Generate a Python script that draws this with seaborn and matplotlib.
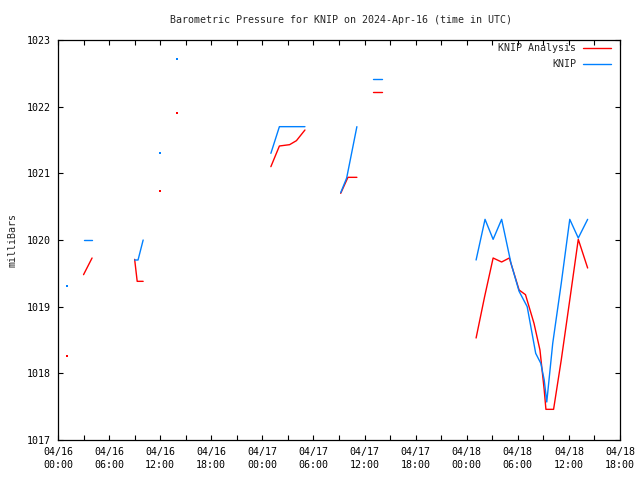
import matplotlib
matplotlib.use('Agg')
import numpy as np
import pandas as pd
import matplotlib.pyplot as plt
import seaborn as sns
from matplotlib.lines import Line2D

nan = np.nan

# hours since 2024-04-16 00:00 UTC, nan marks a gap in the record
analysis_hours = [1, nan, 3, 4, nan, 9, 9.3, 10, nan, 12, nan, 14, nan,
                  25, 26, 27.2, 28, 29, nan, 33.2, 34.05, 35.1, nan, 37, 38, nan,
                  49.1, 50.1, 51.1, 52.1, 53.0, 54.15, 54.9, 55.9, 56.6, 57.1,
                  57.3, 58.2, 59.1, 60.1, 61.1, 62.2]
analysis_mb = [1018.26, nan, 1019.48, 1019.73, nan, 1019.71, 1019.38, 1019.38, nan,
               1020.73, nan, 1021.90, nan,
               1021.10, 1021.41, 1021.43, 1021.49, 1021.65, nan,
               1020.70, 1020.94, 1020.94, nan, 1022.22, 1022.22, nan,
               1018.53, 1019.15, 1019.73, 1019.67, 1019.73, 1019.25, 1019.18, 1018.75,
               1018.35, 1017.75, 1017.46, 1017.46, 1018.20, 1019.10, 1020.01, 1019.58]

obs_hours = [1, nan, 3, 4, nan, 9, 9.4, 10, nan, 12, nan, 14, nan,
             25, 26, 27, 28, 29, nan, 33.2, 33.9, 35.1, nan, 37, 38, nan,
             49.1, 50.15, 51.1, 52.1, 53.2, 54.15, 55.1, 56.1, 56.7, 57.1,
             57.4, 58.1, 59.1, 60.1, 61.1, 62.2]
obs_mb = [1019.31, nan, 1020.00, 1020.00, nan, 1019.70, 1019.70, 1020.00, nan,
          1021.30, nan, 1022.71, nan,
          1021.30, 1021.70, 1021.70, 1021.70, 1021.70, nan,
          1020.71, 1020.93, 1021.70, nan, 1022.41, 1022.41, nan,
          1019.70, 1020.31, 1020.01, 1020.31, 1019.65, 1019.23, 1019.00, 1018.30,
          1018.15, 1017.90, 1017.57, 1018.45, 1019.35, 1020.31, 1020.03, 1020.31]

tick_hours = list(range(0, 67, 3))
tick_labels = ['04/16\n00:00', '', '04/16\n06:00', '', '04/16\n12:00', '', '04/16\n18:00', '',
               '04/17\n00:00', '', '04/17\n06:00', '', '04/17\n12:00', '', '04/17\n18:00', '',
               '04/18\n00:00', '', '04/18\n06:00', '', '04/18\n12:00', '', '04/18\n18:00']

RED = '#ff0000'
BLUE = '#0080ff'


def to_frame(hours, values):
    df = pd.DataFrame({'hour': hours, 'mb': values})
    df['seg'] = df['hour'].isna().cumsum()
    df = df.dropna()
    df['n'] = df.groupby('seg')['hour'].transform('size')
    return df


sns.set_style('ticks')
plt.rcParams['font.family'] = ['DejaVu Sans Mono']
plt.rcParams['font.size'] = 7.2

fig = plt.figure(figsize=(6.4, 4.8), dpi=100)
ax = fig.add_axes([58 / 640, 40 / 480, 562 / 640, 400 / 480])

for hours, vals, col in [(analysis_hours, analysis_mb, RED), (obs_hours, obs_mb, BLUE)]:
    df = to_frame(hours, vals)
    lines = df[df['n'] > 1]
    sns.lineplot(data=lines, x='hour', y='mb', units='seg', estimator=None,
                 color=col, linewidth=1, ax=ax, sort=False)
    # isolated readings show as single dots
    dots = df[df['n'] == 1]
    sns.scatterplot(data=dots, x='hour', y='mb', color=col, marker='s',
                    s=1.2, linewidth=0, ax=ax)

ax.set_xlim(0, 66)
ax.set_ylim(1017, 1023)
ax.set_xticks(tick_hours)
ax.set_xticklabels(tick_labels)
for lbl in ax.get_xticklabels():
    lbl.set_linespacing(1.35)
ax.set_yticks(range(1017, 1024))
ax.tick_params(direction='in', length=3.5, width=0.8, top=True, right=True,
               labelsize=7.2, colors='black', pad=5)
for sp in ax.spines.values():
    sp.set_visible(True)
    sp.set_linewidth(0.9)
    sp.set_color('black')

ax.set_xlabel('')
ax.set_ylabel('milliBars', fontsize=7.2)
ax.yaxis.set_label_coords(-40 / 562, 0.5)

fig.text(341 / 640, 1 - 20 / 480, 'Barometric Pressure for KNIP on 2024-Apr-16 (time in UTC)',
         ha='center', va='center', fontsize=7.2)

handles = [Line2D([], [], color=RED, lw=1), Line2D([], [], color=BLUE, lw=1)]
fig.legend(handles, ['KNIP Analysis', 'KNIP'], loc='upper right',
           bbox_to_anchor=(611 / 640, 1 - 43 / 480), frameon=False, markerfirst=False,
           fontsize=7.2, handlelength=2.8, handletextpad=0.7, labelspacing=0.6,
           borderpad=0, borderaxespad=0)

fig.savefig('out.png', dpi=100)
